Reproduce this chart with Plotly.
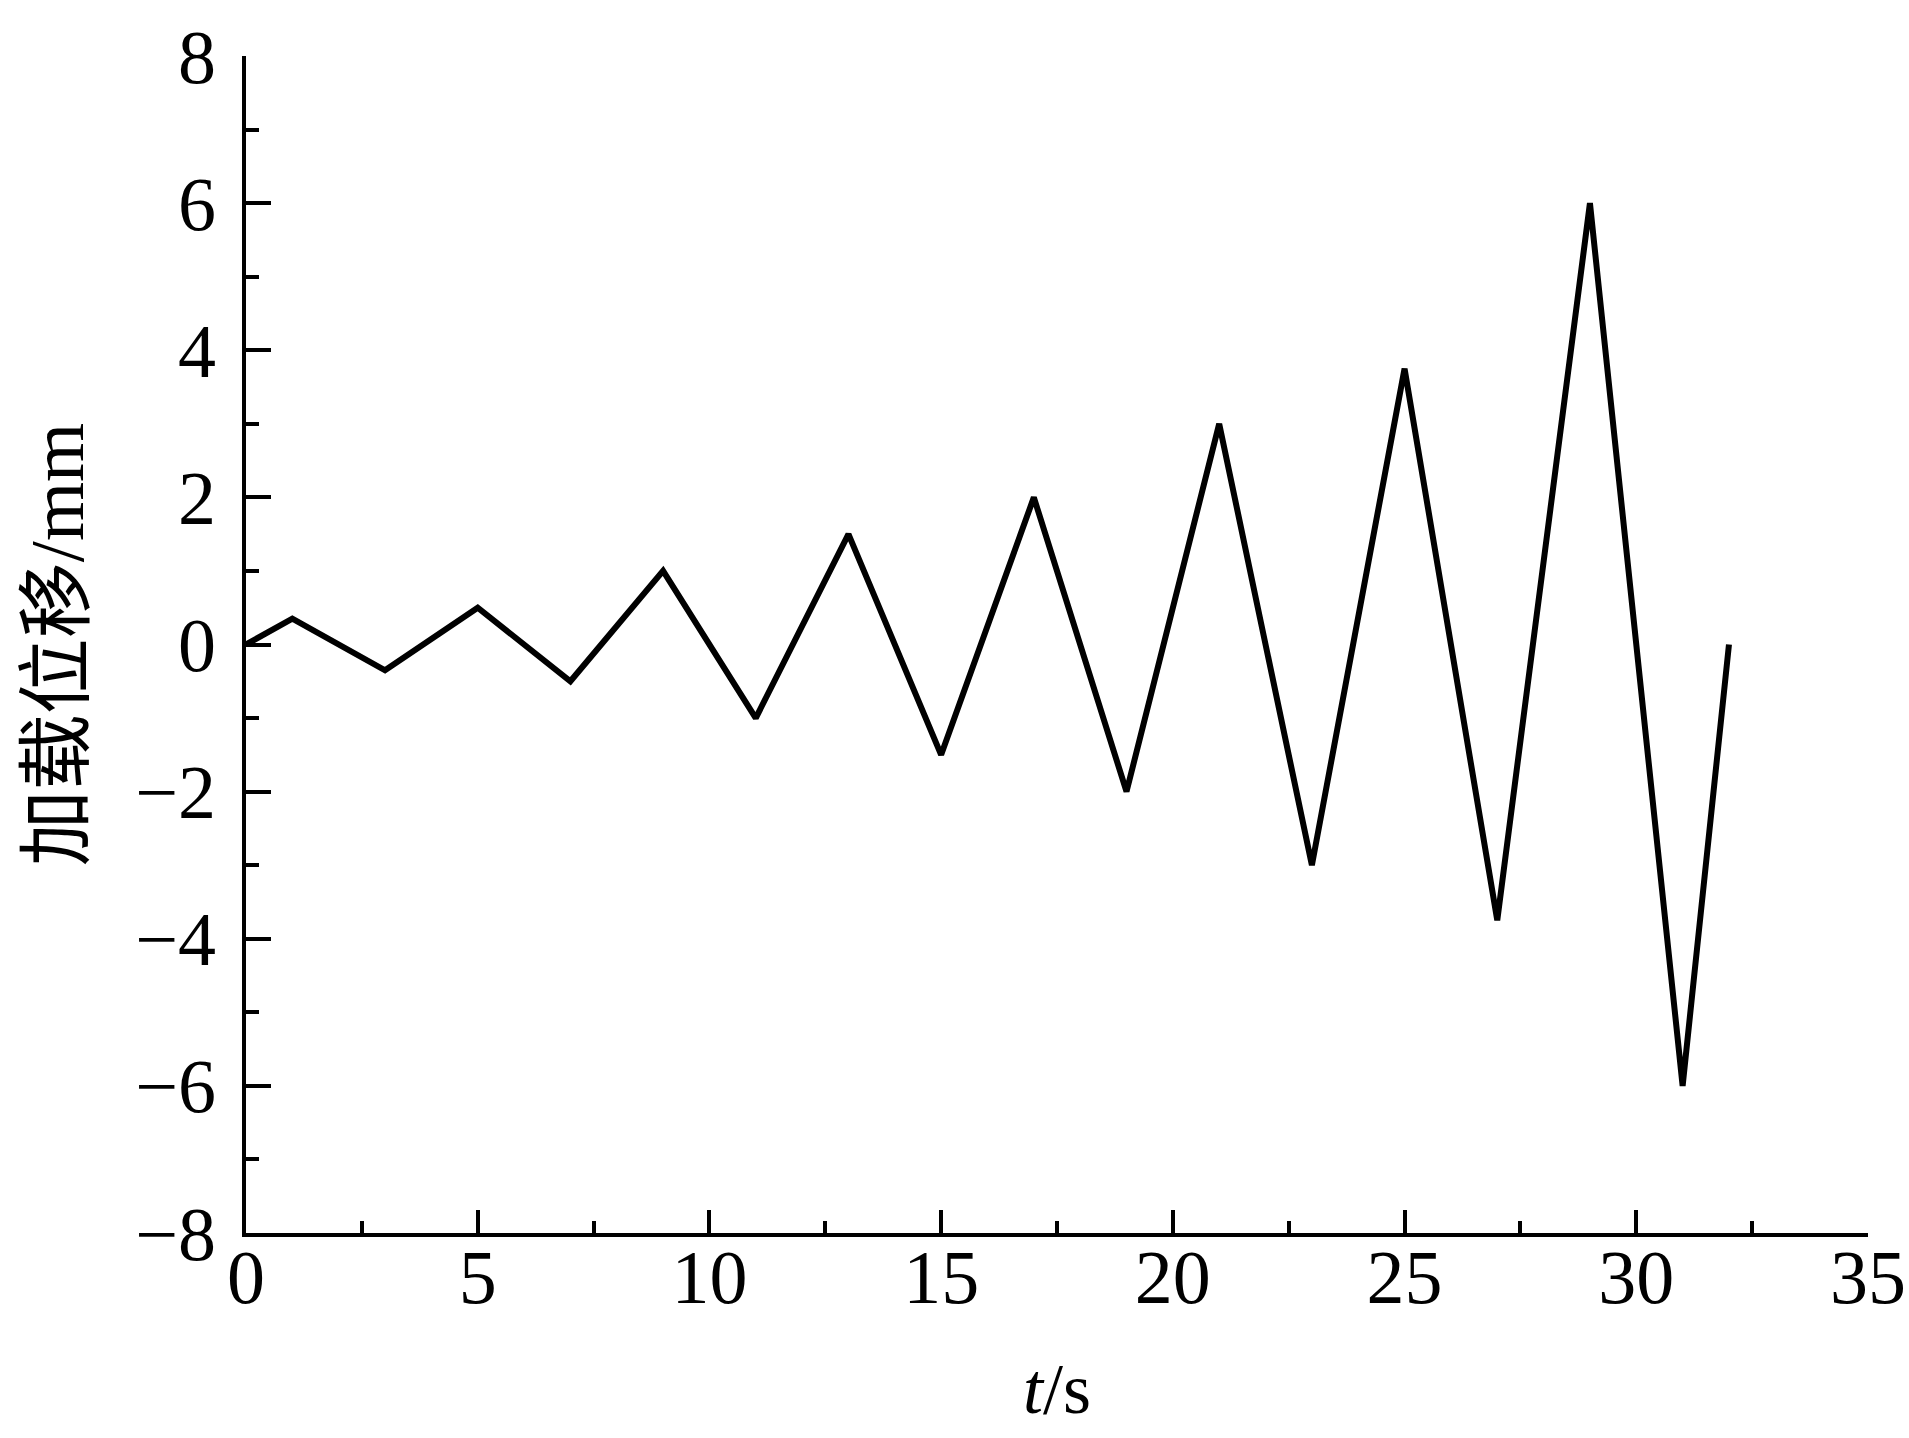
import plotly.graph_objects as go

# loading history: time (s) and imposed displacement (mm)
time_s = [0, 1, 3, 5, 7, 9, 11, 13, 15, 17, 19, 21, 23, 25, 27, 29, 31, 32]
disp_mm = [0, 0.35, -0.35, 0.5, -0.5, 1, -1, 1.5, -1.5, 2, -2, 3, -3,
           3.75, -3.75, 6, -6, 0]

x_ticks = [0, 5, 10, 15, 20, 25, 30, 35]
y_ticks = [-8, -6, -4, -2, 0, 2, 4, 6, 8]

serif = "Liberation Serif, Times New Roman, Noto Sans CJK SC"

fig = go.Figure()
fig.add_trace(
    go.Scatter(
        x=time_s,
        y=disp_mm,
        mode='lines',
        line=dict(color='black', width=6),
        showlegend=False,
    )
)

axis_common = dict(
    showline=True,
    linecolor='black',
    linewidth=3.5,
    showgrid=False,
    zeroline=False,
    ticks='inside',
    tickcolor='black',
    tickwidth=3.5,
    tickfont=dict(family=serif, size=76, color='black'),
)

fig.update_xaxes(
    **axis_common,
    range=[0, 35],
    tickvals=x_ticks,
    ticklen=23,
    ticklabelstandoff=-25,
    minor=dict(ticks='inside', ticklen=12, tickwidth=3.5, tickcolor='black', dtick=2.5),
    title=dict(text='<i>t</i>/s', font=dict(family=serif, size=72, color='black'), standoff=46),
)
fig.update_yaxes(
    **axis_common,
    range=[-8, 8],
    tickvals=y_ticks,
    ticklen=25,
    ticklabelstandoff=11,
    minor=dict(ticks='inside', ticklen=13, tickwidth=3.5, tickcolor='black', dtick=1),
    title=dict(text='加载位移/mm', font=dict(family=serif, size=76, color='black'), standoff=28),
)

fig.update_layout(
    width=1909,
    height=1438,
    margin=dict(l=246, r=41, t=56, b=205, autoexpand=False),
    plot_bgcolor='white',
    paper_bgcolor='white',
)

# drop the default page margin so the figure sits at the window's corner
fig.write_html(
    "out.html",
    config={'displayModeBar': False},
    post_script="document.body.style.margin='0';",
)
